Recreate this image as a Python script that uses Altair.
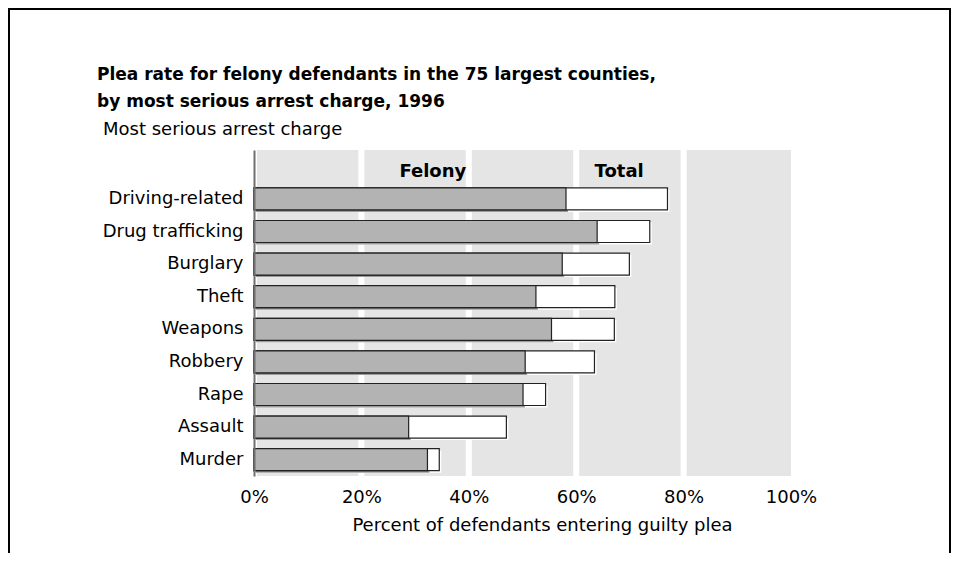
import altair as alt
import pandas as pd

# ---- data ----
categories = ["Driving-related", "Drug trafficking", "Burglary", "Theft", "Weapons",
              "Robbery", "Rape", "Assault", "Murder"]
felony_pct = [58.1, 63.9, 57.4, 52.5, 55.4, 50.5, 50.1, 28.8, 32.3]
total_pct = [77.0, 73.7, 69.9, 67.2, 67.1, 63.4, 54.3, 47.0, 34.5]
header_labels = ["Felony", "Total"]
header_pos = [33.3, 68.0]
tick_values = [0, 20, 40, 60, 80, 100]
gap_values = [0, 20, 40, 60, 80]
title_lines = ["Plea rate for felony defendants in the 75 largest counties,",
               "by most serious arrest charge, 1996"]
y_title = "Most serious arrest charge"
x_title = "Percent of defendants entering guilty plea"

FONT = "DejaVu Sans"
W, H = 537, 326

df = pd.DataFrame({"charge": categories, "felony": felony_pct, "total": total_pct})
hdr = pd.DataFrame({"charge": ["", ""], "pos": header_pos, "label": header_labels})
gaps = pd.DataFrame({"v": gap_values})
one = pd.DataFrame({"a": [0]})

y_domain = [""] + categories
y_scale = alt.Scale(domain=y_domain, paddingInner=0, paddingOuter=0)
x_scale = alt.Scale(domain=[0, 100], nice=False, zero=True)

x_axis = alt.Axis(values=tick_values, labelExpr="datum.value + '%'", title=x_title,
                  grid=False, domain=False, ticks=False, labelFont=FONT, labelFontSize=18,
                  labelColor="black", labelPadding=12, titleFont=FONT, titleFontSize=18,
                  titleFontWeight="normal", titleColor="black", titlePadding=10,
                  titleX=288, titleAnchor="middle", labelFlush=False)
y_axis = alt.Axis(title=None, labelFont=FONT, labelFontSize=18, labelColor="black",
                  labelPadding=11, ticks=False, tickSize=0, domain=True, domainColor="#6f6f6f",
                  domainWidth=2, labelLimit=400, grid=False, zindex=1)

def X(field):
    return alt.X(field, type="quantitative", scale=x_scale, axis=x_axis)

def Y():
    return alt.Y("charge:N", scale=y_scale, axis=y_axis, sort=y_domain)

gap_layer = alt.Chart(gaps).mark_rule(color="white", strokeWidth=6).encode(x=X("v"))

total_shadow = alt.Chart(df).mark_bar(color="white", size=22, xOffset=2, yOffset=2).encode(
    x=X("total"), y=Y())
felony_shadow = alt.Chart(df).mark_bar(color="#9c9c9c", size=22, xOffset=2, yOffset=2).encode(
    x=X("felony"), y=Y())
total_bar = alt.Chart(df).mark_bar(fill="white", stroke="#222222", strokeWidth=1.2, size=22).encode(
    x=X("total"), y=Y())
felony_bar = alt.Chart(df).mark_bar(fill="#b3b3b3", stroke="#222222", strokeWidth=1.2, size=22).encode(
    x=X("felony"), y=Y())

header = alt.Chart(hdr).mark_text(font=FONT, fontSize=18, fontWeight="bold", color="black",
                                  dy=6).encode(x=X("pos"), y=Y(), text="label:N")

t1 = alt.Chart(one).mark_text(text=title_lines[0], font=FONT, fontSize=17, fontWeight="bold",
                              align="left", baseline="middle", color="black").encode(
    x=alt.value(-157), y=alt.value(-75))
t2 = alt.Chart(one).mark_text(text=title_lines[1], font=FONT, fontSize=17, fontWeight="bold",
                              align="left", baseline="middle", color="black").encode(
    x=alt.value(-157), y=alt.value(-48))
t3 = alt.Chart(one).mark_text(text=y_title, font=FONT, fontSize=18, align="left",
                              baseline="middle", color="black").encode(
    x=alt.value(-151), y=alt.value(-20))

frame = alt.Chart(one).mark_rect(filled=False, stroke="black", strokeWidth=2).encode(
    x=alt.value(-245), x2=alt.value(696), y=alt.value(-141), y2=alt.value(700))

chart = alt.layer(gap_layer, total_shadow, felony_shadow, total_bar, felony_bar, header,
                  t1, t2, t3, frame).properties(
    width=W, height=H,
    background="white",
    autosize=alt.AutoSizeParams(type="none"),
    padding={"left": 246, "top": 142, "right": 160, "bottom": 77},
).configure_view(fill="#e5e5e5", strokeWidth=0)

chart.save("out.html", embed_options={"renderer": "svg", "actions": False})
